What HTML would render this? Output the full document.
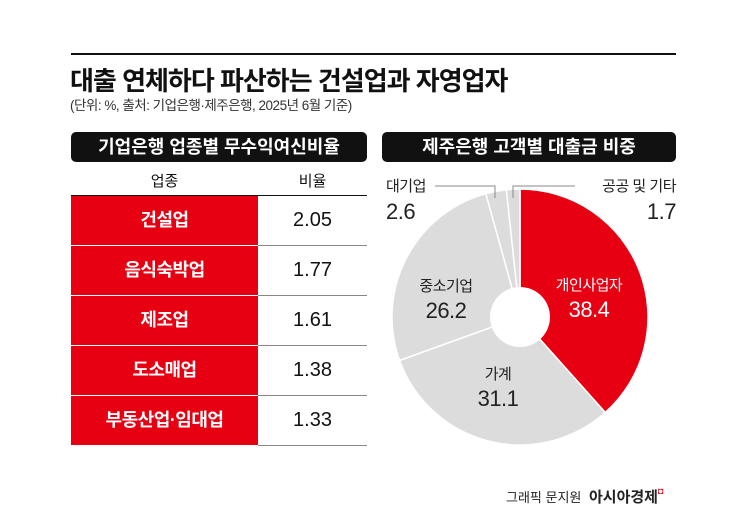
<!DOCTYPE html>
<html><head><meta charset="utf-8"><style>
body{margin:0;width:745px;height:530px;background:#fff;font-family:"Liberation Sans","Noto Sans CJK KR",sans-serif;position:relative;overflow:hidden;color:#111}
.a{position:absolute}
.bar{background:#111;color:#fff;border-radius:5px;font-size:18px;font-weight:bold;text-align:center;line-height:30px;height:30px}
.cell{position:absolute;left:71px;width:187px;height:49px;background:#e60012;color:#fff;font-weight:bold;font-size:18px;text-align:center;line-height:49px;letter-spacing:-0.5px}
.val{position:absolute;left:258px;width:109px;height:49px;font-size:20px;text-align:center;line-height:49px;border-bottom:1px solid #888}
</style></head><body>
<div class="a" style="left:71px;top:53px;width:605px;height:2px;background:#111"></div>
<div class="a" style="left:70px;top:61px;font-size:26px;font-weight:bold;letter-spacing:-1px">대출 연체하다 파산하는 건설업과 자영업자</div>
<div class="a" style="left:70px;top:94px;font-size:13.5px;color:#333;letter-spacing:-0.5px">(단위: %, 출처: 기업은행·제주은행, 2025년 6월 기준)</div>
<div class="a bar" style="left:71px;top:132px;width:296px">기업은행 업종별 무수익여신비율</div>
<div class="a bar" style="left:382px;top:132px;width:294px">제주은행 고객별 대출금 비중</div>
<div class="a" style="left:71px;top:170px;width:187px;text-align:center;font-size:15px">업종</div>
<div class="a" style="left:258px;top:170px;width:109px;text-align:center;font-size:15px">비율</div>
<div class="a" style="left:71px;top:195px;width:296px;height:1px;background:#111"></div>
<div id="rows"></div>
<svg class="a" style="left:0;top:0" width="745" height="530" id="pie"></svg>
<div class="a" style="left:506px;top:486px;font-size:13px;color:#222">그래픽 문지원 <b style="font-size:15px;margin-left:4px">아시아경제</b><span style="color:#e60012;font-size:9px;vertical-align:top">◘</span></div>
<script>
const industries=["건설업","음식숙박업","제조업","도소매업","부동산업·임대업"];
const ratios=["2.05","1.77","1.61","1.38","1.33"];
const segLabels=["개인사업자","가계","중소기업","대기업","공공및기타"];
const segValues=[38.4,31.1,26.2,2.6,1.7];
const rows=document.getElementById('rows');
industries.forEach((n,i)=>{
 const c=document.createElement('div');c.className='cell';c.style.top=(196+i*50)+'px';c.textContent=n;
 
 
 rows.appendChild(c);
 const v=document.createElement('div');v.className='val';v.style.top=(196+i*50)+'px';v.textContent=ratios[i];
 
 
 rows.appendChild(v);
});
const svg=document.getElementById('pie');const NS='http://www.w3.org/2000/svg';
const cx=520,cy=317,R=128,r0=30;
const total=segValues.reduce((a,b)=>a+b,0);
let acc=0;
function pt(a,rr){return [cx+rr*Math.sin(a),cy-rr*Math.cos(a)];}
segValues.forEach((v,i)=>{
 const a0=acc/total*2*Math.PI;acc+=v;const a1=acc/total*2*Math.PI;
 const [x0,y0]=pt(a0,R),[x1,y1]=pt(a1,R);const big=a1-a0>Math.PI?1:0;
 const p=document.createElementNS(NS,'path');
 p.setAttribute('d',`M${cx},${cy}L${x0},${y0}A${R},${R} 0 ${big} 1 ${x1},${y1}Z`);
 p.setAttribute('fill',i==0?'#e60012':'#dcdcdc');p.setAttribute('stroke','#fff');p.setAttribute('stroke-width','1.5');
 
 
 svg.appendChild(p);
});
const h=document.createElementNS(NS,'circle');h.setAttribute('cx',cx);h.setAttribute('cy',cy);h.setAttribute('r',r0);h.setAttribute('fill','#fff');


svg.appendChild(h);
function txt(x,y,s,size,fill,anchor,name){const t=document.createElementNS(NS,'text');t.setAttribute('x',x);t.setAttribute('y',y);t.setAttribute('font-size',size);t.setAttribute('fill',fill);t.setAttribute('text-anchor',anchor||'middle');t.setAttribute('letter-spacing','-0.5');t.textContent=s;
 
 
 svg.appendChild(t);}
txt(589,290,segLabels[0],15,'#fff','middle','label-self-employed');
txt(589,317,segValues[0].toFixed(1),22,'#fff','middle','value-self-employed');
txt(498,379,segLabels[1],15,'#222','middle','label-household');
txt(498,406,segValues[1].toFixed(1),22,'#222','middle','value-household');
txt(446,291,segLabels[2],15,'#222','middle','label-sme');
txt(446,318,segValues[2].toFixed(1),22,'#222','middle','value-sme');
txt(386,191,segLabels[3],15,'#222','start','label-large');
txt(386,219,segValues[3].toFixed(1),22,'#222','start','value-large');
txt(676,191,'공공 및 기타',15,'#222','end','label-public');
txt(676,219,segValues[4].toFixed(1),22,'#222','end','value-public');
const l=document.createElementNS(NS,'path');
l.setAttribute('d','M435,186H495V198M513,198V186H575');l.setAttribute('stroke','#888');l.setAttribute('fill','none');


svg.appendChild(l);
</script>
</body></html>
